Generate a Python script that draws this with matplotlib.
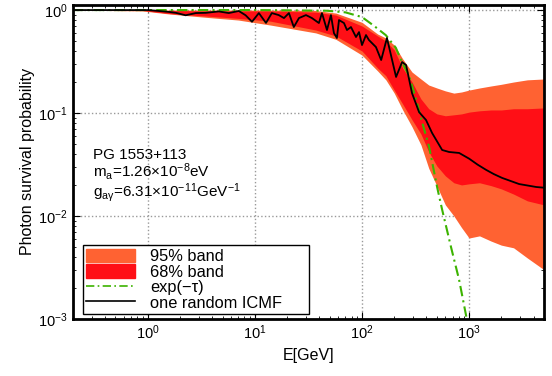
import matplotlib
matplotlib.use('Agg')
import matplotlib.pyplot as plt
import numpy as np
from matplotlib.patches import Patch
from matplotlib.lines import Line2D

plt.rcParams['font.family'] = ['Liberation Sans', 'DejaVu Sans']
plt.rcParams['mathtext.fontset'] = 'custom'
plt.rcParams['mathtext.rm'] = 'Liberation Sans'
plt.rcParams['mathtext.it'] = 'Liberation Sans:italic'
plt.rcParams['mathtext.bf'] = 'Liberation Sans:bold'

# bands (energy grid in GeV)
E_band = [0.2, 0.9, 1.6, 3.5, 7, 14, 37, 57, 100, 140, 167, 200, 240, 293, 355,
          420, 500, 600, 720, 850, 1000, 1250, 1600, 2000, 2600, 3500, 5000]
o_hi = [1.0, 1.0, 1.0, 1.0, 1.0, 1.0, 0.99, 0.935, 0.76, 0.585, 0.535, 0.457, 0.335, 0.25, 0.214,
        0.187, 0.175, 0.164, 0.156, 0.16, 0.167, 0.175, 0.183, 0.19, 0.2, 0.21, 0.214]
r_hi = [1.0, 1.0, 0.99, 0.98, 0.98, 0.98, 0.955, 0.894, 0.70, 0.56, 0.50, 0.41, 0.273, 0.20, 0.137,
        0.11, 0.098, 0.094, 0.096, 0.098, 0.102, 0.105, 0.107, 0.107, 0.11, 0.11, 0.112]
r_lo = [1.0, 0.99, 0.925, 0.875, 0.83, 0.78, 0.64, 0.56, 0.40, 0.273, 0.23, 0.167, 0.122, 0.086, 0.0625,
        0.042, 0.0306, 0.0245, 0.021, 0.020, 0.0205, 0.021, 0.0197, 0.0183, 0.0163, 0.014, 0.0128]
o_lo = [1.0, 0.98, 0.915, 0.85, 0.80, 0.715, 0.60, 0.52, 0.365, 0.256, 0.21, 0.156, 0.107, 0.0735, 0.049,
        0.029, 0.0195, 0.0128, 0.010, 0.0077, 0.0061, 0.0064, 0.0057, 0.0052, 0.0049, 0.0039, 0.003]

# exp(-tau)
E_tau = [0.2, 10, 20, 47, 70, 100, 130, 167, 207, 237, 275, 300, 330, 360, 423, 503, 560, 677, 806, 950, 1000]
P_tau = [1.0, 1.0, 0.995, 0.985, 0.95, 0.855, 0.70, 0.57, 0.43, 0.31, 0.23, 0.17, 0.12, 0.085, 0.047,
         0.019, 0.0115, 0.005, 0.0024, 0.001, 0.0007]

# one random ICMF realisation
E_icmf = [0.2, 0.35, 0.92, 1.02, 1.27, 1.57, 1.83, 2.26, 2.81, 3.48, 4.61, 5.71, 7.08, 8.2, 9.4, 10.9,
          12.7, 14.4, 16.7, 18.7, 20.8, 23.1, 25.8, 30.0, 34.1, 39.6, 42.3, 47.1, 51.3, 54.7, 58.3,
          61.0, 67.9, 72.4, 78.9, 87.9, 93.8, 100, 109, 116, 135, 151, 171, 208, 237, 258, 293,
          341, 396, 451, 560, 650, 807, 1000, 1200, 1442, 1700, 2032, 2931, 4227, 5000]
P_icmf = [1.0, 1.0, 1.0, 1.0, 0.98, 0.96, 0.94, 0.89, 0.935, 0.94, 0.97, 0.935, 0.98, 0.89, 0.77, 0.935,
          0.75, 0.935, 0.894, 0.836, 0.935, 0.684, 0.836, 0.894, 0.836, 0.748, 0.935, 0.64, 0.894, 0.598, 0.535,
          0.80, 0.748, 0.64, 0.684, 0.547, 0.611, 0.457, 0.572, 0.512, 0.437, 0.327, 0.535, 0.224, 0.313, 0.292, 0.156,
          0.102, 0.0855, 0.064, 0.0437, 0.0418, 0.0409, 0.036, 0.0315, 0.028, 0.0255, 0.0234, 0.0204, 0.0191, 0.0188]

c95 = '#ff6232'
c68 = '#ff0f16'
cg = '#3cb300'

fig = plt.figure(figsize=(5.52, 3.76), dpi=100)
ax = fig.add_axes([0.132, 0.152, 0.8535, 0.8347])

ax.fill_between(E_band, o_lo, o_hi, color=c95, lw=0)
ax.fill_between(E_band, r_lo, r_hi, color=c68, lw=0)
ax.plot(E_tau, P_tau, color=cg, lw=1.5, ls=(0, (5, 2, 1, 2)))
ax.plot(E_icmf, P_icmf, color='black', lw=1.3)

ax.set_xscale('log')
ax.set_yscale('log')
ax.set_xlim(0.2, 5000)
ax.set_ylim(1e-3, 1.12)
ax.set_axisbelow(True)
ax.grid(True, which='major', ls=':', color='#999999', lw=1)
ax.tick_params(which='both', direction='in', top=True, right=True, labelsize=10.5)
ax.tick_params(which='major', length=5)
ax.tick_params(which='minor', length=2.5)
for s in ax.spines.values():
    s.set_linewidth(2)

ax.set_xlabel('E[GeV]', fontsize=11.5)
ax.set_ylabel('Photon survival probability', fontsize=11.5)
ax.yaxis.set_label_coords(-0.08, 0.5)

ax.text(0.042, 0.51, 'PG 1553+113', transform=ax.transAxes, fontsize=11)
ax.text(0.042, 0.452, r'm$_\mathrm{a}$=1.26$\times$10$^{-8}$eV', transform=ax.transAxes, fontsize=11)
ax.text(0.042, 0.39, r'g$_{\mathrm{a\gamma}}$=6.31$\times$10$^{-11}$GeV$^{-1}$', transform=ax.transAxes,
        fontsize=11)

handles = [Patch(color=c95, label='95% band'),
           Patch(color=c68, label='68% band'),
           Line2D([], [], color=cg, lw=1.2, ls=(0, (5, 2, 1, 2)), label='exp(−τ)'),
           Line2D([], [], color='black', lw=1.2, label='one random ICMF')]
leg = ax.legend(handles=handles, loc='lower left', bbox_to_anchor=(0.021, 0.016, 0.48, 0.2), mode='expand',
                borderaxespad=0, fontsize=11.8, fancybox=False, framealpha=1, edgecolor='black',
                handlelength=3.0, handleheight=0.9, labelspacing=0.0, borderpad=0.2, handletextpad=0.9)
leg.get_frame().set_linewidth(1)

fig.savefig('out.png', dpi=100)
